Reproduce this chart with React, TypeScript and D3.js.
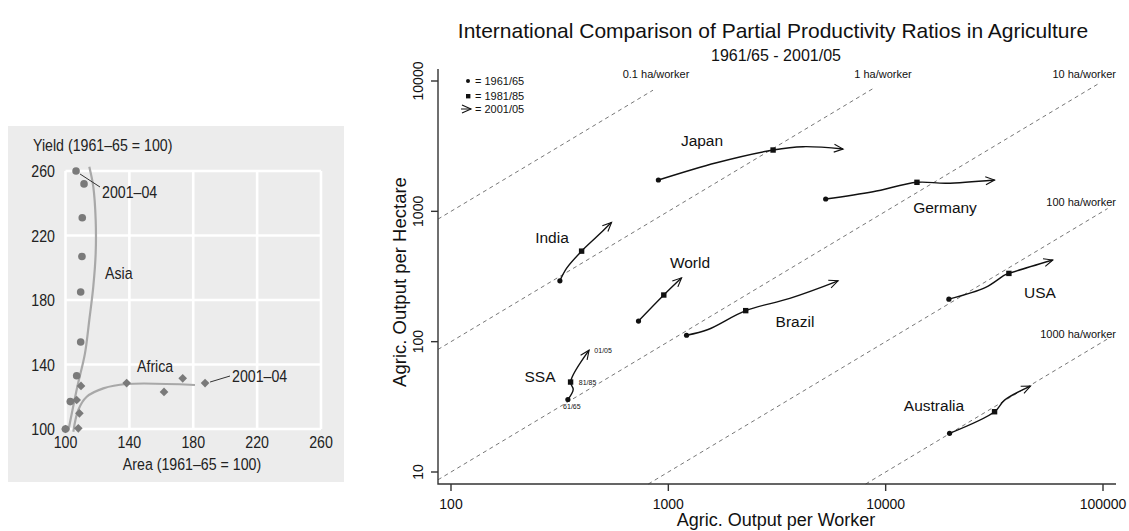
import React from 'react';
import * as d3 from 'd3';

// ---- left panel: yield vs area (index, 1961-65 = 100)
const leftTicks = [100, 140, 180, 220, 260];
const asiaArea = [100, 103, 107, 109.5, 109.5, 110.3, 110.5, 111.6, 106.6];
const asiaYield = [100, 117, 133, 154, 185, 207, 231, 252, 260];
const africaArea = [100, 108, 108.7, 107, 109.7, 138.3, 161.7, 173.4, 187.4];
const africaYield = [100, 100.4, 109.7, 118, 126.7, 128.5, 123, 131.4, 128.5];
const asiaFitArea = [101.8, 107.4, 112.2, 114.9, 117.4, 118.9, 118.9, 117.4, 114.9];
const asiaFitYield = [99, 126.2, 146.9, 167.6, 188.3, 209, 229.6, 250.3, 262.7];
const africaFitArea = [104.9, 108, 113.3, 123.7, 138.3, 181.1];
const africaFitYield = [98.3, 111.8, 120, 125.2, 127.9, 127.3];

// ---- right panel: output per worker vs output per hectare (log-log)
const workerTicks = [100, 1000, 10000, 100000];
const hectareTicks = [10, 100, 1000, 10000];
const haPerWorker = [0.1, 1, 10, 100, 1000];
const haLineEnd = [850, 8900, 95000, 105000, 105000];
const haLabels = ['0.1 ha/worker', '1 ha/worker', '10 ha/worker', '100 ha/worker', '1000 ha/worker'];

const countryNames = ['Japan', 'Germany', 'India', 'World', 'SSA', 'Brazil', 'USA', 'Australia'];
const japanWorker = [900, 1666, 3034, 4168, 6368];
const japanHectare = [1740, 2361, 2954, 3133, 3008];
const germanyWorker = [5297, 8743, 13930, 19010, 31700];
const germanyHectare = [1243, 1413, 1670, 1641, 1738];
const indiaWorker = [317, 340, 399, 468, 548];
const indiaHectare = [293, 365, 495, 638, 823];
const worldWorker = [729, 953, 1151];
const worldHectare = [144, 228, 309];
const ssaWorker = [345, 365, 355, 432];
const ssaHectare = [36, 43, 49, 86];
const brazilWorker = [1213, 1524, 2270, 3620, 6040];
const brazilHectare = [112, 124, 173, 215, 293];
const usaWorker = [19540, 28850, 35240, 36900, 58750];
const usaHectare = [212, 261, 324, 334, 423];
const australiaWorker = [19680, 31700, 35240, 46400];
const australiaHectare = [19.8, 29, 35.6, 45.6];
// index of the 1981/85 observation in each series
const squareIndex = [2, 2, 2, 1, 2, 2, 3, 1];

const ssaPeriods = ['61/65', '81/85', '01/05'];

const sans = '"Liberation Sans", Arial, Helvetica, sans-serif';

// condensed text for the left panel (Arial Narrow look-alike)
function NText({ x, y, anchor = 'start', children }: { x: number; y: number; anchor?: string; children: React.ReactNode }) {
  return (
    <text transform={`translate(${x},${y}) scale(0.86,1)`} textAnchor={anchor as any} fontSize={16.5}>
      {children}
    </text>
  );
}

function LeftPanel() {
  const x = d3.scaleLinear().domain([100, 260]).range([65.5, 321]);
  const y = d3.scaleLinear().domain([100, 260]).range([429, 171]);
  const line = d3.line<number[]>().x(d => x(d[0])).y(d => y(d[1])).curve(d3.curveCatmullRom.alpha(0.5));
  const asiaFit = asiaFitArea.map((a, i) => [a, asiaFitYield[i]]);
  const africaFit = africaFitArea.map((a, i) => [a, africaFitYield[i]]);
  const diamond = d3.symbol().type(d3.symbolDiamond2).size(48)();
  const pointColor = '#7a7a7a';

  return (
    <g fontFamily={sans} fill="#222">
      <rect x={8} y={126} width={336} height={356} fill="#ececec" />
      {leftTicks.map(t => (
        <g key={'g' + t}>
          <line x1={x(t)} x2={x(t)} y1={y(100)} y2={y(260)} stroke="#fff" strokeWidth={2.6} />
          <line x1={x(100)} x2={x(260)} y1={y(t)} y2={y(t)} stroke="#fff" strokeWidth={2.6} />
          <NText x={55} y={y(t) + 6} anchor="end">{t}</NText>
          <NText x={x(t)} y={448} anchor="middle">{t}</NText>
        </g>
      ))}
      <path d={line(asiaFit) || ''} fill="none" stroke="#a8a8a8" strokeWidth={2.2} />
      <path d={line(africaFit) || ''} fill="none" stroke="#a8a8a8" strokeWidth={2.2} />
      {asiaArea.map((a, i) => (
        <circle key={'a' + i} cx={x(a)} cy={y(asiaYield[i])} r={3.8} fill={pointColor} />
      ))}
      {africaArea.map((a, i) => (
        <path key={'f' + i} d={diamond || ''} transform={`translate(${x(a)},${y(africaYield[i])})`} fill={pointColor} />
      ))}
      <line x1={x(asiaArea[8]) + 4} y1={y(asiaYield[8]) + 3} x2={100} y2={187} stroke="#333" strokeWidth={1} />
      <NText x={102} y={198}>2001–04</NText>
      <line x1={x(africaArea[8]) + 5} y1={y(africaYield[8]) - 1} x2={230} y2={376} stroke="#333" strokeWidth={1} />
      <NText x={232} y={382}>2001–04</NText>
      <NText x={105} y={279}>Asia</NText>
      <NText x={137} y={372}>Africa</NText>
      <NText x={33} y={151}>Yield (1961–65 = 100)</NText>
      <NText x={192} y={470} anchor="middle">Area (1961–65 = 100)</NText>
    </g>
  );
}

function RightPanel() {
  const x = d3.scaleLog().domain([100, 100000]).range([451, 1103]);
  const y = d3.scaleLog().domain([10, 10000]).range([472, 81]);
  const left = 438;
  const bottom = 484;
  const xMin = x.invert(left);
  const yMin = y.invert(bottom);
  const line = d3.line<number[]>().x(d => x(d[0])).y(d => y(d[1])).curve(d3.curveCatmullRom.alpha(0.5));

  const workers = [japanWorker, germanyWorker, indiaWorker, worldWorker, ssaWorker, brazilWorker, usaWorker, australiaWorker];
  const hectares = [japanHectare, germanyHectare, indiaHectare, worldHectare, ssaHectare, brazilHectare, usaHectare, australiaHectare];
  const series = countryNames.map((name, i) => ({
    name,
    pts: workers[i].map((w, j) => [w, hectares[i][j]]),
    sq: squareIndex[i],
  }));
  const labelPos: Record<string, [number, number]> = {
    Japan: [702, 146], Germany: [945, 213], India: [552, 243], World: [690, 268],
    SSA: [540, 382], Brazil: [795, 327], USA: [1040, 298], Australia: [934, 411],
  };
  const haLabelPos: [number, number, string][] = [
    [656, 78, 'middle'], [883, 78, 'middle'], [1116, 78, 'end'], [1116, 206, 'end'], [1116, 338, 'end'],
  ];

  return (
    <g fontFamily={sans} fill="#111">
      <defs>
        <marker id="arrowhead" viewBox="-10 -6 12 12" refX={0} refY={0} markerWidth={12} markerHeight={12}
          orient="auto" markerUnits="userSpaceOnUse">
          <path d="M-9,-4L0,0L-9,4" fill="none" stroke="#111" strokeWidth={1.1} />
        </marker>
      </defs>
      <text x={773} y={38} textAnchor="middle" fontSize={21}>
        International Comparison of Partial Productivity Ratios in Agriculture
      </text>
      <text x={776} y={61} textAnchor="middle" fontSize={16}>1961/65 - 2001/05</text>

      {haPerWorker.map((h, i) => {
        const x0 = Math.max(xMin, yMin * h);
        const x1 = haLineEnd[i];
        return (
          <line key={'h' + h} x1={x(x0)} y1={y(x0 / h)} x2={x(x1)} y2={y(x1 / h)}
            stroke="#777" strokeWidth={1} strokeDasharray="4,3.5" />
        );
      })}
      {haLabels.map((l, i) => (
        <text key={l} x={haLabelPos[i][0]} y={haLabelPos[i][1]} textAnchor={haLabelPos[i][2] as any} fontSize={11}>{l}</text>
      ))}

      <path d={`M${left},69V${bottom}H1116`} fill="none" stroke="#333" strokeWidth={1.4} />
      {workerTicks.map(t => (
        <g key={'x' + t}>
          <line x1={x(t)} x2={x(t)} y1={bottom} y2={bottom + 7} stroke="#333" strokeWidth={1.4} />
          <text x={x(t)} y={509} textAnchor="middle" fontSize={14}>{t}</text>
        </g>
      ))}
      {hectareTicks.map(t => (
        <g key={'y' + t}>
          <line x1={left} x2={left - 7} y1={y(t)} y2={y(t)} stroke="#333" strokeWidth={1.4} />
          <text transform={`translate(423,${y(t)}) rotate(-90)`} textAnchor="middle" fontSize={14}>{t}</text>
        </g>
      ))}
      <text x={776} y={526} textAnchor="middle" fontSize={18}>Agric. Output per Worker</text>
      <text transform="translate(406,282) rotate(-90)" textAnchor="middle" fontSize={18.5}>Agric. Output per Hectare</text>

      {series.map(s => {
        const first = s.pts[0];
        const sq = s.pts[s.sq];
        return (
          <g key={s.name}>
            <path d={line(s.pts) || ''} fill="none" stroke="#111" strokeWidth={1.4} markerEnd="url(#arrowhead)" />
            <circle cx={x(first[0])} cy={y(first[1])} r={2.6} fill="#111" />
            <rect x={x(sq[0]) - 2.7} y={y(sq[1]) - 2.7} width={5.4} height={5.4} fill="#111" />
            <text x={labelPos[s.name][0]} y={labelPos[s.name][1]} textAnchor="middle" fontSize={15.5}>{s.name}</text>
          </g>
        );
      })}
      {ssaPeriods.map((p, i) => {
        const pt = [ssaWorker[0], ssaWorker[2], ssaWorker[3]][i];
        const ph = [ssaHectare[0], ssaHectare[2], ssaHectare[3]][i];
        const dx = [4, 17, 14][i];
        const dy = [10, 3, 3][i];
        return (
          <text key={p} x={x(pt) + dx} y={y(ph) + dy} textAnchor="middle" fontSize={7}>{p}</text>
        );
      })}

      <g fontSize={11}>
        <circle cx={468} cy={81} r={2} fill="#111" />
        <text x={475} y={85}>= 1961/65</text>
        <rect x={466} y={94} width={4.4} height={4.4} fill="#111" />
        <text x={475} y={99.5}>= 1981/85</text>
        <line x1={461} y1={109} x2={471} y2={109} stroke="#111" strokeWidth={1} markerEnd="url(#arrowhead)" />
        <text x={475} y={113}>= 2001/05</text>
      </g>
    </g>
  );
}

export default function App() {
  return (
    <svg width={1129} height={531} style={{ position: 'absolute', left: 0, top: 0, background: '#fff' }}>
      <LeftPanel />
      <RightPanel />
    </svg>
  );
}
